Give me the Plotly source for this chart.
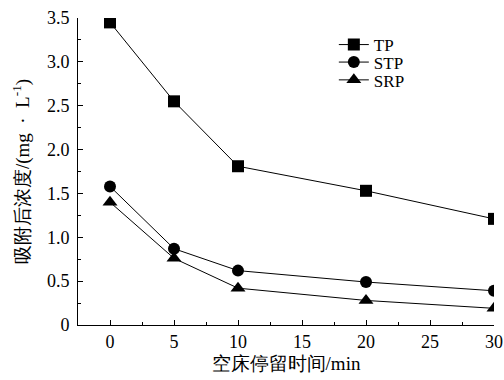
import plotly.graph_objects as go

times = [0, 5, 10, 20, 30]
tp = [3.45, 2.55, 1.81, 1.53, 1.21]
stp = [1.58, 0.87, 0.62, 0.49, 0.39]
srp = [1.40, 0.76, 0.42, 0.28, 0.19]
series = [("TP", tp, "square"), ("STP", stp, "circle"), ("SRP", srp, "triangle-up")]

y_ticks = [0, 0.5, 1.0, 1.5, 2.0, 2.5, 3.0, 3.5]
y_labels = ["0", "0.5", "1.0", "1.5", "2.0", "2.5", "3.0", "3.5"]
x_ticks = [0, 5, 10, 15, 20, 25, 30]

FAM = "Liberation Serif"
tick_font = dict(family=FAM, size=18, color="black")
title_font = dict(family=FAM, size=19, color="black")
legend_font = dict(family=FAM, size=17, color="black")

legend_ids = ["legend", "legend2", "legend3"]
legend_y = [0.912, 0.855, 0.797]

fig = go.Figure()
for (name, vals, sym), lid in zip(series, legend_ids):
    fig.add_trace(go.Scatter(
        x=times, y=vals, name=name, mode="lines+markers", legend=lid,
        line=dict(color="black", width=1),
        marker=dict(symbol=sym, size=12 if sym != "triangle-up" else 13, color="black"),
    ))

legend_common = dict(x=0.615, xanchor="left", yanchor="middle", bgcolor="rgba(0,0,0,0)",
                     font=legend_font, itemwidth=30)

fig.update_layout(
    template="none",
    width=504, height=380,
    margin=dict(l=78, r=10, t=18, b=55),
    plot_bgcolor="white", paper_bgcolor="white",
    font=dict(family=FAM, size=18, color="black"),
    showlegend=True,
    legend=dict(y=legend_y[0], **legend_common),
    legend2=dict(y=legend_y[1], **legend_common),
    legend3=dict(y=legend_y[2], **legend_common),
)
fig.update_xaxes(range=[-2.5, 30], tickvals=x_ticks, showline=True, linecolor="black",
                 linewidth=1, ticks="inside", ticklen=5, tickcolor="black", automargin=False,
                 minor=dict(ticks="inside", ticklen=3, dtick=2.5, tick0=0, tickcolor="black"),
                 showgrid=False, zeroline=False, tickfont=tick_font,
                 title=dict(text="空床停留时间/min", standoff=6, font=title_font))
fig.update_yaxes(range=[0, 3.5], tickvals=y_ticks, ticktext=y_labels, showline=True,
                 linecolor="black", linewidth=1, ticks="inside", ticklen=5, tickcolor="black",
                 automargin=False, ticklabelstandoff=4,
                 minor=dict(ticks="inside", ticklen=3, dtick=0.25, tick0=0, tickcolor="black"),
                 showgrid=False, zeroline=False, tickfont=tick_font,
                 title=dict(text="吸附后浓度/(mg &nbsp;·&nbsp; L<sup>-1</sup>)", standoff=12, font=title_font))

fig.write_html("out.html")
